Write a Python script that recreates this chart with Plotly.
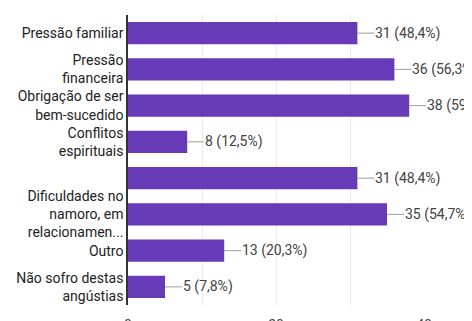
import plotly.graph_objects as go

categories = [
    "Pressão familiar",
    "Pressão<br>financeira",
    "Obrigação de ser<br>bem-sucedido",
    "Conflitos<br>espirituais",
    "",
    "Dificuldades no<br>namoro, em<br>relacionamen...",
    "Outro",
    "Não sofro destas<br>angústias",
]
counts = [31, 36, 38, 8, 31, 35, 13, 5]
percents = ["48,4%", "56,3%", "59,4%", "12,5%", "48,4%", "54,7%", "20,3%", "7,8%"]
x_ticks = [0, 10, 20, 30, 40]
x_tick_text = ["0", "", "20", "", "40"]

positions = list(range(len(categories)))

fig = go.Figure()
fig.add_trace(go.Bar(
    x=counts,
    y=positions,
    orientation="h",
    width=0.61,
    marker=dict(color="#673ab7", line=dict(width=0)),
    hoverinfo="skip",
))

for v, p, pos in zip(counts, percents, positions):
    fig.add_annotation(
        x=v, y=pos, xref="x", yref="y",
        text=f"{v} ({p})",
        showarrow=True, arrowhead=0, arrowwidth=1, arrowcolor="#9e9e9e",
        ax=17, ay=0, axref="pixel", ayref="pixel",
        xanchor="left", yanchor="middle", standoff=0, borderpad=0,
        font=dict(family="Roboto", size=14, color="#424242"),
    )

fig.update_layout(
    width=472, height=321,
    margin=dict(l=120, r=56, t=7, b=24, autoexpand=False),
    paper_bgcolor="white", plot_bgcolor="white",
    showlegend=False,
    font=dict(family="Roboto", size=14, color="#222222"),
    xaxis=dict(
        range=[0, 40], automargin=False,
        tickvals=x_ticks, ticktext=x_tick_text,
        showgrid=True, gridcolor="#ebebeb", gridwidth=1,
        zeroline=False, showline=False,
        ticks="", ticklabelstandoff=10,
        tickfont=dict(family="Roboto", size=14, color="#444444"),
    ),
    yaxis=dict(
        range=[len(categories) - 0.5, -0.5], automargin=False,
        tickvals=positions, ticktext=categories,
        showgrid=False, zeroline=False,
        showline=True, linecolor="#333333", linewidth=1.5,
        ticks="", ticklabelstandoff=0,
        tickfont=dict(family="Roboto", size=14, color="#222222"),
    ),
)

fig.write_html("out.html")
